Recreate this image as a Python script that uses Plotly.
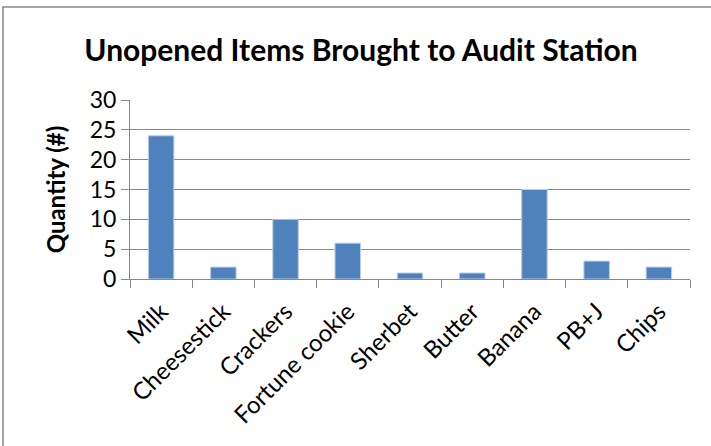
import plotly.graph_objects as go

categories = ["Milk", "Cheesestick", "Crackers", "Fortune cookie", "Sherbet",
              "Butter", "Banana", "PB+J", "Chips"]
quantities = [24, 2, 10, 6, 1, 1, 15, 3, 2]
y_ticks = [0, 5, 10, 15, 20, 25, 30]

FONT = "Lato"
GRID = "#888888"

W, H = 711, 446
L, R, T, B = 130, 690, 100, 279
PW, PH = R - L, B - T

fig = go.Figure(go.Bar(
    x=categories, y=quantities,
    marker=dict(color="#4F81BD", line=dict(color="#B9CDE5", width=1)),
    width=0.41,
))

fig.update_layout(
    width=W, height=H,
    margin=dict(l=L, r=W - R, t=T, b=H - B, pad=0),
    paper_bgcolor="white", plot_bgcolor="white",
    showlegend=False,
    font=dict(family=FONT, color="black"),
    title=dict(text="<b>Unopened Items Brought to Audit Station</b>",
               x=361 / W, xref="container", xanchor="center",
               y=1 - 50 / H, yref="container", yanchor="middle",
               font=dict(size=30, family=FONT, color="black")),
    xaxis=dict(
        type="category",
        showline=True, linecolor=GRID, linewidth=1,
        ticks="outside", tickson="boundaries", ticklen=8, tickcolor=GRID,
        tickangle=-45, tickfont=dict(size=24, family=FONT),
        ticklabelstandoff=8,
        showgrid=False,
    ),
    yaxis=dict(
        range=[0, 30], tickvals=y_ticks,
        showline=True, linecolor=GRID, linewidth=1,
        ticks="outside", ticklen=8, tickcolor=GRID,
        showgrid=True, gridcolor=GRID, gridwidth=1,
        zeroline=False,
        tickfont=dict(size=23, family=FONT),
        title=dict(text="<b>Quantity (#)</b>", font=dict(size=24, family=FONT), standoff=17),
    ),
    shapes=[dict(type="rect", xref="paper", yref="paper",
                 x0=(3 - L) / PW, x1=(716 - L) / PW,
                 y0=(B - 452) / PH, y1=(B - 7) / PH,
                 line=dict(color="#868686", width=1.5), fillcolor="rgba(0,0,0,0)",
                 layer="below")],
)

fig.write_html("out.html", config={"displayModeBar": False},
               post_script="document.body.style.margin='0';")
